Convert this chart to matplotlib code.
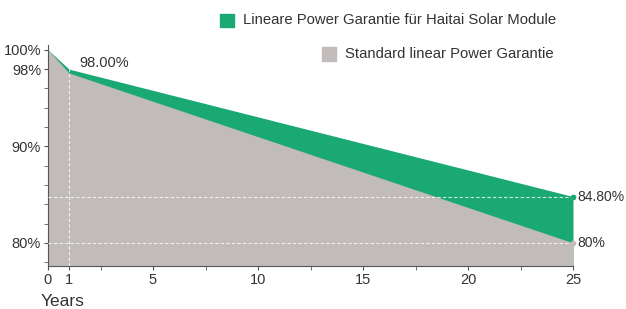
import matplotlib.pyplot as plt
from matplotlib.patches import Rectangle

plt.rcParams['font.family'] = ['Liberation Sans', 'DejaVu Sans']

years = [0, 1, 25]
haitai = [100, 98, 84.8]
standard = [100, 97.6, 80]

x_ticks = [0, 1, 5, 10, 15, 20, 25]
y_ticks = [80, 90, 98, 100]
y_labels = ['80%', '90%', '98%', '100%']

green = '#1aa973'
gray = '#c1bcbb'
txt = '#333333'

fig = plt.figure(figsize=(6.26, 3.09), dpi=100)
ax = fig.add_axes([48 / 626, 43 / 309, 525 / 626, 221 / 309])

ax.fill_between(years, 77.6, haitai, color=green, lw=0, zorder=1)
ax.fill_between(years, 77.6, standard, color=gray, lw=0, zorder=2)

# dashed guide lines
for yv in [84.8, 80]:
    ax.axhline(yv, color='white', ls=(0, (3, 2)), lw=0.8, alpha=0.8, zorder=3)
ax.plot([1, 1], [77.6, 98], color='white', ls=(0, (3, 2)), lw=0.8, alpha=0.8, zorder=3)
ax.plot([25, 25], [84.8, 80], 'o', color=gray, ms=3, zorder=4, clip_on=False)
ax.plot([25], [84.8], 'o', color=green, ms=3, zorder=5, clip_on=False)

ax.set_xlim(0, 25)
ax.set_ylim(77.6, 100.5)
ax.set_xticks(x_ticks)
ax.set_xticklabels([str(v) for v in x_ticks], fontsize=10.5, color=txt)
ax.set_xticks([2.5, 7.5, 12.5, 17.5, 22.5], minor=True)
ax.set_yticks(y_ticks)
ax.set_yticklabels(y_labels, fontsize=10.5, color=txt)
ax.set_yticks([78, 82, 84, 86, 88, 92, 94, 96], minor=True)
ax.tick_params(axis='both', which='both', direction='out', color='#555555', length=3, pad=2)

for s in ['top', 'right']:
    ax.spines[s].set_visible(False)
for s in ['left', 'bottom']:
    ax.spines[s].set_color('#555555')

ax.text(1.5, 98.6, '98.00%', fontsize=10.5, color=txt, va='center')
ax.text(25.2, 84.8, '84.80%', fontsize=10, color=txt, va='center', clip_on=False)
ax.text(25.2, 80, '80%', fontsize=10, color=txt, va='center', clip_on=False)
fig.text(41 / 626, 1 - 302 / 309, 'Years', fontsize=12.5, color=txt, va='center')

# legend
fig.patches.append(Rectangle((220 / 626, 1 - 27 / 309), 14 / 626, 13 / 309,
                             color=green, transform=fig.transFigure))
fig.text(243 / 626, 1 - 20 / 309, 'Lineare Power Garantie für Haitai Solar Module',
         fontsize=10.7, color=txt, va='center')
fig.patches.append(Rectangle((322 / 626, 1 - 61 / 309), 14 / 626, 14 / 309,
                             color=gray, transform=fig.transFigure))
fig.text(345 / 626, 1 - 54 / 309, 'Standard linear Power Garantie',
         fontsize=10.7, color=txt, va='center')

fig.savefig('out.png', dpi=100)
